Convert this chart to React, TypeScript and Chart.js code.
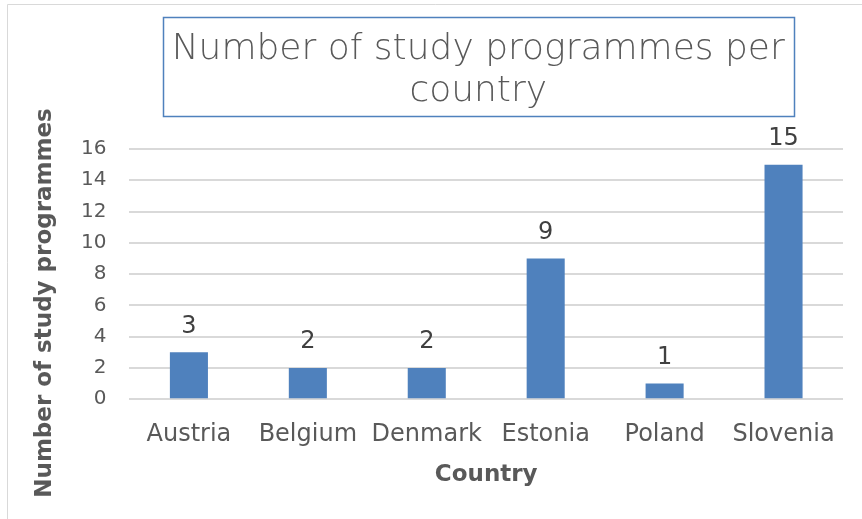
import React, { useEffect, useRef } from "react";
import { Chart, registerables } from "chart.js";

Chart.register(...registerables);

const countries = ["Austria", "Belgium", "Denmark", "Estonia", "Poland", "Slovenia"];
const programmes = [3, 2, 2, 9, 1, 15];
const titleLines = ["Number of study programmes per", "country"];
const yTitle = "Number of study programmes";
const xTitle = "Country";

const FONT = "'DejaVu Sans'";
const TITLE_FONT = "'DejaVu Sans ExtraLight', 'DejaVu Sans'";
const TEXT = "#595959";

const decorPlugin = {
  id: "decor",
  beforeDraw(chart: any) {
    const ctx = chart.ctx;
    ctx.save();
    ctx.fillStyle = "#ffffff";
    ctx.fillRect(0, 0, chart.width, chart.height);
    ctx.strokeStyle = "#d9d9d9";
    ctx.lineWidth = 1;
    ctx.beginPath();
    ctx.moveTo(7.5, chart.height + 2);
    ctx.lineTo(7.5, 4.5);
    ctx.lineTo(chart.width + 2, 4.5);
    ctx.stroke();
    ctx.restore();
  },
  afterDraw(chart: any) {
    const ctx = chart.ctx;
    const ca = chart.chartArea;
    ctx.save();
    // main title with framed box
    ctx.font = `200 36px ${TITLE_FONT}`;
    ctx.fillStyle = TEXT;
    ctx.textAlign = "center";
    ctx.textBaseline = "middle";
    const cx = (ca.left + ca.right) / 2 - 8;
    const lh = 42;
    const firstY = 50;
    titleLines.forEach((t, i) => ctx.fillText(t, cx, firstY + i * lh));
    const w = Math.max(...titleLines.map((t) => ctx.measureText(t).width));
    const boxW = w + 18;
    ctx.strokeStyle = "#4f81bd";
    ctx.lineWidth = 1.5;
    ctx.strokeRect(Math.round(cx - boxW / 2) + 0.5, 17.5, Math.round(boxW), 99);
    // y axis title
    ctx.font = `bold 23px ${FONT}`;
    ctx.fillStyle = TEXT;
    ctx.translate(45, 303);
    ctx.rotate(-Math.PI / 2);
    ctx.fillText(yTitle, 0, 0);
    ctx.restore();
  },
  afterDatasetsDraw(chart: any) {
    const ctx = chart.ctx;
    const meta = chart.getDatasetMeta(0);
    const data = chart.data.datasets[0].data;
    ctx.save();
    ctx.font = `24px ${FONT}`;
    ctx.fillStyle = "#404040";
    ctx.textAlign = "center";
    ctx.textBaseline = "middle";
    meta.data.forEach((bar: any, i: number) => {
      ctx.fillText(String(data[i]), bar.x, bar.y - 26);
    });
    ctx.restore();
  },
};

export default function App() {
  const ref = useRef<HTMLCanvasElement>(null);
  useEffect(() => {
    if (!ref.current) return;
    const chart = new Chart(ref.current, {
      type: "bar",
      data: {
        labels: countries,
        datasets: [
          {
            data: programmes,
            backgroundColor: "#4f81bd",
            barPercentage: 0.64,
            categoryPercentage: 0.5,
          },
        ],
      },
      plugins: [decorPlugin],
      options: {
        responsive: false,
        animation: false,
        devicePixelRatio: 1,
        layout: { padding: { left: 58, right: 19, top: 149, bottom: 32 } },
        plugins: {
          legend: { display: false },
          title: { display: false },
          tooltip: { enabled: false },
        },
        scales: {
          x: {
            grid: { display: false, drawTicks: false },
            border: { display: false },
            ticks: {
              color: TEXT,
              font: { family: FONT, size: 24 },
              padding: 21,
              maxRotation: 0,
              autoSkip: false,
            },
            title: {
              display: true,
              text: xTitle,
              color: TEXT,
              font: { family: FONT, size: 23, weight: "bold", lineHeight: 1 },
              padding: { top: -6, bottom: 0 },
            },
          },
          y: {
            min: 0,
            max: 16,
            ticks: {
              stepSize: 2,
              color: TEXT,
              font: { family: FONT, size: 20 },
              padding: 23,
            },
            grid: { color: "#d9d9d9", lineWidth: 2, drawTicks: false },
            border: { display: false },
          },
        },
      },
    });
    return () => chart.destroy();
  }, []);
  return (
    <div style={{ position: "fixed", left: 0, top: 0, width: 862, height: 519 }}>
      <canvas ref={ref} width={862} height={519} />
    </div>
  );
}
